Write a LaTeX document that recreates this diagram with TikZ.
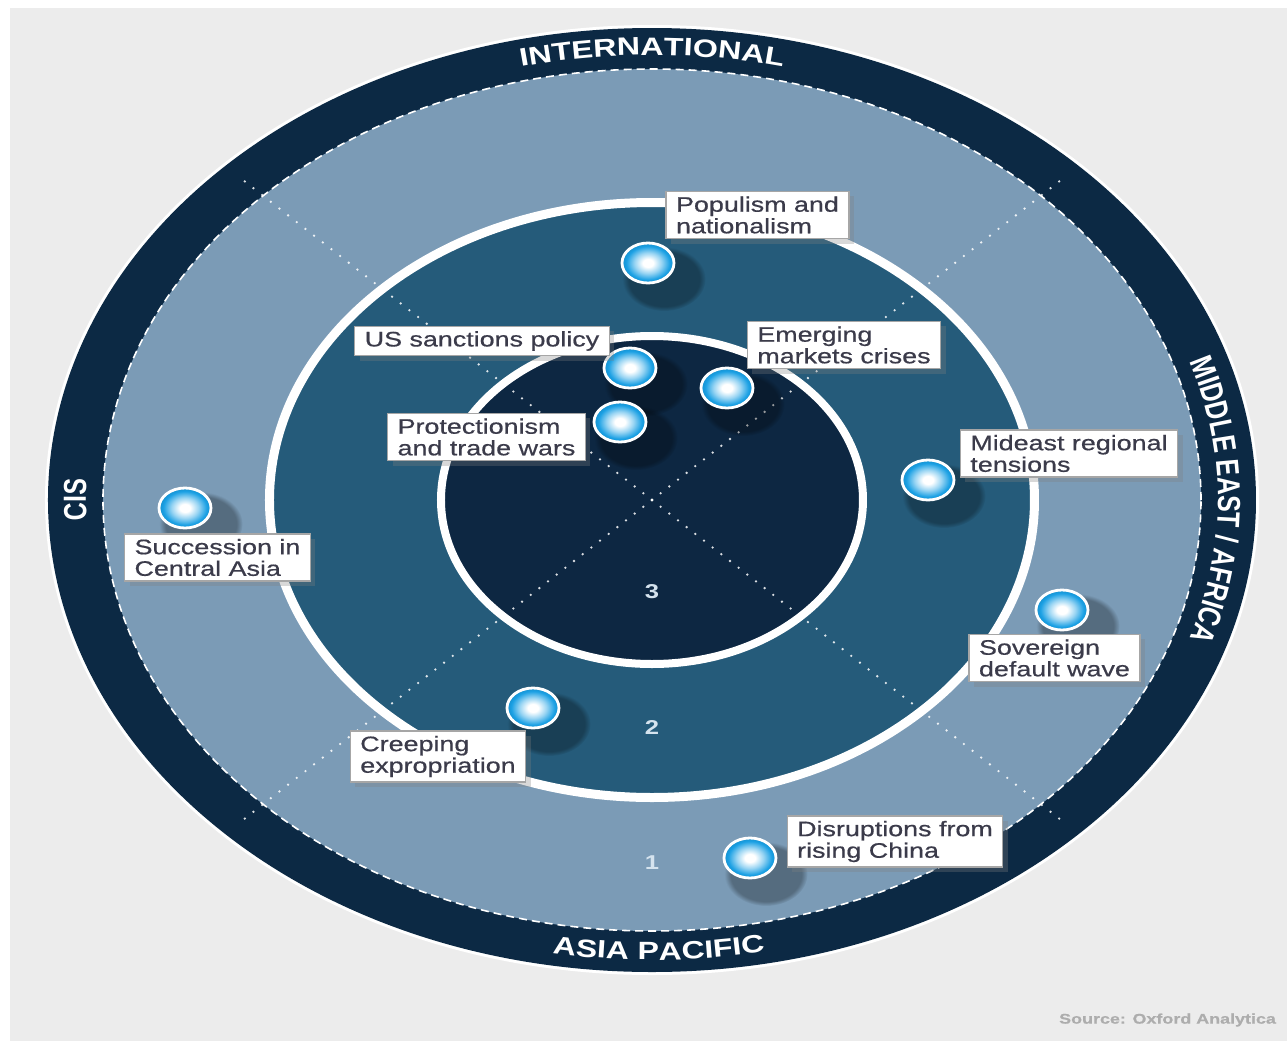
\documentclass[tikz,border=0pt]{standalone}
\usepackage{fontspec}
\setmainfont{Liberation Sans}
\newfontfamily\boxfont{Liberation Sans}[FakeStretch=1.28, FakeBold=0.6]
\newfontfamily\ringfont{Liberation Sans}[FakeStretch=1.28]
\newfontfamily\sidefont{Liberation Sans}[FakeStretch=0.78]
\usetikzlibrary{shapes.geometric,shadows,decorations.text,positioning}

\definecolor{paper}{HTML}{ECECEC}
\definecolor{navy}{HTML}{0C2944}
\definecolor{steel}{HTML}{7B9BB6}
\definecolor{midring}{HTML}{255B7A}
\definecolor{core}{HTML}{0D2742}
\definecolor{bubbleblue}{HTML}{1AA0E4}
\definecolor{inkgray}{HTML}{3B3B4A}
\definecolor{ringnum}{HTML}{D5E3EE}

\pgfdeclareradialshading{bubbleshade}{\pgfpoint{0bp}{0bp}}{color(0bp)=(white); color(5bp)=(white); color(13bp)=(bubbleblue!45!white); color(21bp)=(bubbleblue); color(29bp)=(bubbleblue!80!black); color(50bp)=(bubbleblue!80!black)}

\tikzset{
  bubble/.style={ellipse, minimum width=26pt, minimum height=20pt, inner sep=0pt, draw=white, line width=1.4pt, shade, shading=bubbleshade,
    circular drop shadow={shadow xshift=5pt, shadow yshift=-5pt, shadow scale=1.6, opacity=0.3, fill=black}},
  tag/.style={rectangle, draw=black!35, line width=0.6pt, fill=white, align=left, inner xsep=5pt, inner ysep=2.5pt, text=inkgray,
    font=\boxfont\fontsize{10.5}{10.8}\selectfont, drop shadow={shadow xshift=2.5pt, shadow yshift=-2.5pt, opacity=0.3}},
  ringnumber/.style={text=ringnum, font=\ringfont\bfseries\fontsize{10}{12}\selectfont},
}

\begin{document}
\begin{tikzpicture}[x=0.5pt, y=0.5pt]
  % background
  \fill[white] (-652,-541) rectangle (635,500);
  \fill[paper] (-642,-541) rectangle (635,492);
  \useasboundingbox (-652,-541) rectangle (635,500);

  % rings
  \fill[white] (0,0) ellipse [x radius=303.5pt, y radius=237.5pt];
  \fill[navy] (0,0) ellipse [x radius=302pt, y radius=236pt];
  \fill[steel] (0,0) ellipse [x radius=274.5pt, y radius=215.5pt];
  \draw[white, line width=0.8pt, dash pattern=on 4pt off 2.5pt] (0,0) ellipse [x radius=274.5pt, y radius=215.5pt];
  \fill[midring] (0,0) ellipse [x radius=191.25pt, y radius=148.75pt];
  \fill[core] (0,0) ellipse [x radius=105.5pt, y radius=82pt];
  \foreach \a in {45,135,225,315}
    \draw[white, line width=1.3pt, line cap=round, dash pattern=on 0pt off 5.5pt, opacity=0.85] (0,0) -- (\a:294pt and 230pt);
  \draw[white, line width=4.5pt] (0,0) ellipse [x radius=191.25pt, y radius=148.75pt];
  \draw[white, line width=4pt] (0,0) ellipse [x radius=105.5pt, y radius=82pt];

  % region names
  \path[decorate, decoration={text along path, text align=center, text color=white,
      text={|\ringfont\bfseries\fontsize{12.6}{14}\selectfont|INTERNATIONAL}}]
    (120:284.5pt and 222.5pt) arc [start angle=120, end angle=60, x radius=284.5pt, y radius=222.5pt];
  \path[decorate, decoration={text along path, text align=center, text color=white,
      text={|\ringfont\bfseries\fontsize{12.5}{14}\selectfont|ASIA PACIFIC}}]
    (240.7:294.5pt and 230pt) arc [start angle=240.7, end angle=300.7, x radius=294.5pt, y radius=230pt];
  \path[decorate, decoration={text along path, text align=center, text color=white,
      text={|\sidefont\bfseries\fontsize{16}{18}\selectfont|MIDDLE EAST / AFRICA}}]
    (40:283pt and 221pt) arc [start angle=40, end angle=-40, x radius=283pt, y radius=221pt];
  \path[decorate, decoration={text along path, text align=center, text color=white,
      text={|\sidefont\bfseries\fontsize{16}{18}\selectfont|CIS}}]
    (200:283pt and 221pt) arc [start angle=200, end angle=160, x radius=283pt, y radius=221pt];

  % ring numbers
  \node(one) [ringnumber] at (0,-363) {1};
  \node(two) [ringnumber] at (0,-228) {2};
  \node(three) [ringnumber] at (0,-92) {3};

  % risks
  \node(dotpop) [bubble] at (-4,237) {};
  \node(dotsanc) [bubble] at (-22,132) {};
  \node(dotprot) [bubble] at (-32,78) {};
  \node(dotemer) [bubble] at (75,112) {};
  \node(dotmid) [bubble] at (276,20) {};
  \node(dotsucc) [bubble] at (-467,-8) {};
  \node(dotsov) [bubble] at (410,-110) {};
  \node(dotcreep) [bubble] at (-119,-208) {};
  \node(dotchina) [bubble] at (98,-358) {};

  \node(tagpop) [tag] at (105.5,285) {Populism and\\nationalism};
  \node(tagsanc) [tag] at (-170,159) {US sanctions policy};
  \node(tagemer) [tag] at (192,155) {Emerging\\markets crises};
  \node(tagprot) [tag] at (-165.5,63) {Protectionism\\and trade wars};
  \node(tagmid) [tag] at (417,46.5) {Mideast regional\\tensions};
  \node(tagsucc) [tag] at (-434.5,-57.5) {Succession in\\Central Asia};
  \node(tagsov) [tag] at (402.5,-158) {Sovereign\\default wave};
  \node(tagcreep) [tag] at (-214,-256.5) {Creeping\\expropriation};
  \node(tagchina) [tag] at (243,-341.5) {Disruptions from\\rising China};

  \node(source) [anchor=east, text=black!32, font=\boxfont\bfseries\fontsize{7}{8}\selectfont] at (631,-520) {Source: Oxford Analytica};
\end{tikzpicture}
\end{document}
